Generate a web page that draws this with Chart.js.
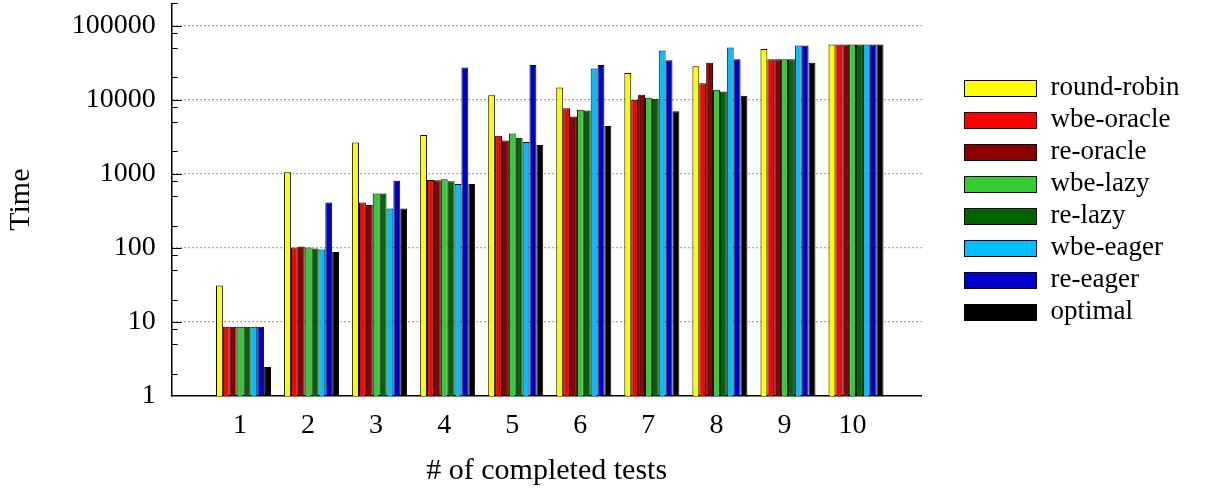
<!DOCTYPE html>
<html>
<head>
<meta charset="utf-8">
<script src="https://cdn.jsdelivr.net/npm/chart.js@4.4.1/dist/chart.umd.min.js"></script>
<style>
  html, body { margin: 0; padding: 0; background: #ffffff; }
  #wrap { width: 1215px; height: 492px; }
</style>
</head>
<body>
<div id="wrap"><canvas id="chart" width="1215" height="492"></canvas></div>
<script>
// Number of completed tests (x) and time to reach it (y, log scale)
const categories = [1, 2, 3, 4, 5, 6, 7, 8, 9, 10];
const roundRobin = [31, 1045, 2650, 3325, 11500, 14600, 23000, 28300, 48500, 55500];
const wbeOracle  = [8.6, 101, 408, 822, 3260, 7690, 9960, 16700, 35200, 55500];
const reOracle   = [8.6, 104, 379, 815, 2820, 5940, 11640, 31400, 35200, 55500];
const wbeLazy    = [8.6, 101, 540, 840, 3500, 7310, 10600, 13600, 35200, 55500];
const reLazy     = [8.6, 98, 540, 790, 3060, 7150, 10280, 12900, 35200, 55500];
const wbeEager   = [8.6, 95, 339, 726, 2680, 26300, 46000, 50500, 53800, 55500];
const reEager    = [8.6, 408, 807, 27150, 29500, 29500, 34100, 35200, 53800, 55500];
const optimal    = [2.46, 88, 339, 726, 2440, 4400, 7000, 11300, 31400, 55500];
const yTickValues = [1, 10, 100, 1000, 10000, 100000];
const seriesNames = ['round-robin', 'wbe-oracle', 're-oracle', 'wbe-lazy', 're-lazy', 'wbe-eager', 're-eager', 'optimal'];

const seriesValues = [roundRobin, wbeOracle, reOracle, wbeLazy, reLazy, wbeEager, reEager, optimal];
const seriesColors = ['#ffff00', '#ff0000', '#8b0000', '#32cd32', '#006400', '#00bfff', '#0000cd', '#000000'];

const FONT = '"Liberation Serif", "Times New Roman", serif';
Chart.defaults.font.family = FONT;
Chart.defaults.font.size = 28;
Chart.defaults.color = '#000000';

// Short tick marks drawn inside the plot, next to the y axis line
const innerTicks = {
  id: 'innerTicks',
  afterDraw(chart) {
    const ys = chart.scales.y;
    const left = chart.chartArea.left;
    const ctx = chart.ctx;
    ctx.save();
    ctx.strokeStyle = '#000000';
    ctx.lineWidth = 1;
    for (let d = 0; d <= 5; d++) {
      for (const m of [1, 2, 5, 8]) {
        const v = m * Math.pow(10, d);
        if (v > ys.max || v <= ys.min) continue;
        const p = Math.round(ys.getPixelForValue(v)) + 0.5;
        const len = m === 1 ? 10 : 6;
        ctx.beginPath();
        ctx.moveTo(left, p);
        ctx.lineTo(left + len, p);
        ctx.stroke();
      }
    }
    ctx.restore();
  }
};

// Legend column to the right of the plot
const sideLegend = {
  id: 'sideLegend',
  afterDraw(chart) {
    const ctx = chart.ctx;
    const area = chart.chartArea;
    const sets = chart.data.datasets;
    const boxW = 72, boxH = 16, rowH = 32;
    const x0 = Math.round(area.right + 42) + 0.5;
    const top = (area.top + area.bottom) / 2 - sets.length * rowH / 2;
    ctx.save();
    ctx.font = '27px ' + FONT;
    ctx.textBaseline = 'middle';
    ctx.textAlign = 'left';
    sets.forEach((ds, i) => {
      const cy = top + rowH * (i + 0.5);
      const by = Math.round(cy - boxH / 2) + 0.5;
      ctx.fillStyle = ds.backgroundColor;
      ctx.fillRect(x0, by, boxW, boxH);
      ctx.strokeStyle = '#000000';
      ctx.lineWidth = 1;
      ctx.strokeRect(x0, by, boxW, boxH);
      ctx.fillStyle = '#000000';
      ctx.fillText(ds.label, x0 + boxW + 14, cy);
    });
    ctx.restore();
  }
};

const datasets = seriesNames.map((name, s) => ({
  label: name,
  data: categories.map((c, i) => ({ x: c, y: seriesValues[s][i] })),
  backgroundColor: seriesColors[s],
  borderColor: '#000000',
  borderWidth: 1,
  borderSkipped: 'start',
  categoryPercentage: 0.808,
  barPercentage: 1.0
}));

new Chart(document.getElementById('chart'), {
  type: 'bar',
  data: { datasets },
  options: {
    responsive: false,
    animation: false,
    devicePixelRatio: 1,
    layout: { padding: { left: 0, top: 3.3, right: 293.3, bottom: 0 } },
    plugins: {
      legend: { display: false },
      tooltip: { enabled: false }
    },
    scales: {
      x: {
        type: 'linear',
        min: -0.055,
        max: 10.965,
        offset: false,
        afterBuildTicks: s => { s.ticks = categories.map(v => ({ value: v })); },
        afterFit: s => { s.height = 96; s.paddingLeft = 0; s.paddingRight = 0; },
        ticks: {
          callback: v => String(v),
          padding: 13,
          labelOffset: -3.5,
          autoSkip: false,
          maxRotation: 0,
          font: { size: 28 }
        },
        grid: { display: false, drawTicks: false, offset: false },
        border: { display: true, color: '#000000', width: 1.5 },
        title: {
          display: true,
          text: '# of completed tests',
          font: { size: 30 },
          padding: { top: 4, bottom: 3 }
        }
      },
      y: {
        type: 'logarithmic',
        min: 1,
        max: 200000,
        afterBuildTicks: s => { s.ticks = yTickValues.map(v => ({ value: v, major: true })); },
        afterFit: s => { s.width = 171.7; s.paddingTop = 0; s.paddingBottom = 0; },
        ticks: {
          callback: v => String(v),
          padding: 16,
          autoSkip: false,
          font: { size: 28 }
        },
        grid: {
          drawTicks: false,
          lineWidth: 1.2,
          color: c => (c.tick && c.tick.value > 1) ? '#7a7a7a' : 'rgba(0,0,0,0)'
        },
        border: { display: true, color: '#000000', width: 1.5, dash: [1.3, 2.7] },
        title: {
          display: true,
          text: 'Time',
          font: { size: 30 },
          padding: { top: 3, bottom: 4 }
        }
      }
    }
  },
  plugins: [innerTicks, sideLegend]
});
</script>
</body>
</html>
